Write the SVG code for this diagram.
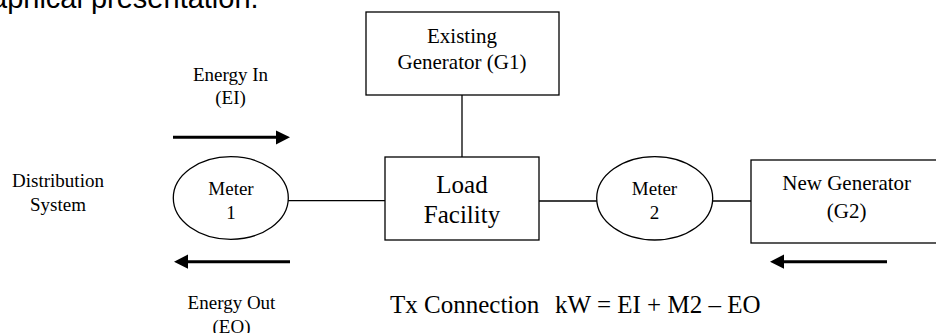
<svg xmlns="http://www.w3.org/2000/svg" width="936" height="333" viewBox="0 0 936 333">
<style>
.t{font-family:"Liberation Serif","Times New Roman",serif;fill:#000;text-anchor:middle}
.s{font-size:19px}
.m{font-size:21px}
.l{font-size:25px}
.box{fill:#fff;stroke:#000;stroke-width:1.3}
.con{stroke:#000;stroke-width:1.3;fill:none}
.arr{stroke:#000;stroke-width:3;fill:none}
.head{fill:#000}
</style>
<rect width="936" height="333" fill="#fff"/>
<text x="-9" y="7.5" font-family="Liberation Sans, Arial, sans-serif" font-size="29" fill="#000">aphical presentation.</text>

<g id="connectors">
<line class="con" x1="462" y1="95" x2="462" y2="157"/>
<line class="con" x1="288" y1="200.7" x2="385" y2="200.7"/>
<line class="con" x1="539" y1="201" x2="597" y2="201"/>
<line class="con" x1="713" y1="201" x2="751" y2="201"/>
</g>

<g id="arrow-energy-in">
<line class="arr" x1="173" y1="137.3" x2="278" y2="137.3"/>
<polygon class="head" points="290,137.3 276,130.5 276,144.5"/>
</g>
<g id="arrow-energy-out">
<line class="arr" x1="186" y1="261.7" x2="290" y2="261.7"/>
<polygon class="head" points="174,261.7 188,254.5 188,268.7"/>
</g>
<g id="arrow-g2">
<line class="arr" x1="782" y1="261.7" x2="887" y2="261.7"/>
<polygon class="head" points="770,261.7 784,254.5 784,268.7"/>
</g>

<g id="distribution">
<text class="t s" x="58" y="186.7">Distribution</text>
<text class="t s" x="58" y="210.7">System</text>
</g>

<g id="energy-in-label">
<text class="t s" x="230.5" y="81">Energy In</text>
<text class="t s" x="230.5" y="104">(EI)</text>
</g>
<g id="energy-out-label">
<text class="t s" x="231.5" y="309.3">Energy Out</text>
<text class="t s" x="231.5" y="333">(EO)</text>
</g>

<g id="g1">
<rect class="box" x="366" y="12" width="193" height="83"/>
<text class="t m" x="462" y="42.7">Existing</text>
<text class="t m" x="462" y="69.3">Generator (G1)</text>
</g>

<g id="meter1">
<ellipse class="box" cx="230.8" cy="198" rx="57.5" ry="41.3"/>
<text class="t s" x="231" y="195">Meter</text>
<text class="t s" x="231" y="219">1</text>
</g>

<g id="load">
<rect class="box" x="385" y="157" width="154" height="83"/>
<text class="t l" x="462" y="192.7">Load</text>
<text class="t l" x="462" y="222.7">Facility</text>
</g>

<g id="meter2">
<ellipse class="box" cx="654.7" cy="198.3" rx="58" ry="41.7"/>
<text class="t s" x="654.5" y="195">Meter</text>
<text class="t s" x="654.5" y="219">2</text>
</g>

<g id="g2">
<rect class="box" x="751" y="160" width="200" height="83"/>
<text class="t m" x="846.7" y="190">New Generator</text>
<text class="t m" x="846.7" y="218">(G2)</text>
</g>

<g id="formula">
<text class="t l" style="text-anchor:start" x="390" y="313.3">Tx Connection<tspan x="555">kW = EI + M2 – EO</tspan></text>
</g>
</svg>
